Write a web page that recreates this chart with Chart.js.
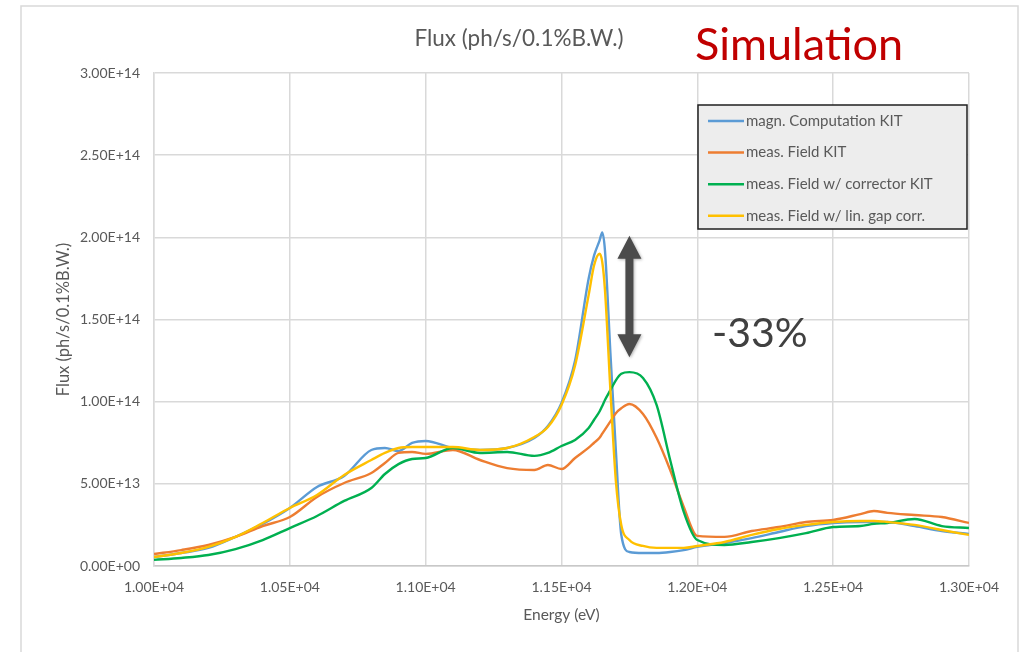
<!DOCTYPE html>
<html>
<head>
<meta charset="utf-8">
<title>Flux (ph/s/0.1%B.W.)</title>
<script src="https://cdn.jsdelivr.net/npm/chart.js@4.4.1/dist/chart.umd.min.js"></script>
<style>
  html, body { margin: 0; padding: 0; background: #fff; }
  #wrap { position: relative; width: 1025px; height: 652px; }
</style>
</head>
<body>
<div id="wrap"><canvas id="fluxChart"></canvas></div>
<script>
// photon energy (eV), shared by all curves
const energy = [
  10000, 10100, 10200, 10300, 10400, 10500, 10600, 10700, 10800, 10850,
  10900, 10950, 11000, 11100, 11200, 11300, 11400, 11450, 11500, 11550,
  11600, 11620, 11640, 11650, 11660, 11680, 11700, 11720, 11750, 11800,
  11850, 11900, 11950, 12000, 12100, 12200, 12300, 12400, 12500, 12600,
  12650, 12700, 12800, 12900, 13000
];

// flux in units of 1e13 ph/s/0.1%B.W.
const magnComputationKit = [
  0.55, 0.79, 1.10, 1.77, 2.56, 3.53, 4.81, 5.48, 7.06, 7.18,
  7.00, 7.49, 7.61, 7.18, 7.06, 7.18, 7.79, 8.52, 9.92, 12.5,
  17.5, 18.9, 19.8, 20.3, 19.2, 12.96, 7.06, 1.90, 0.85, 0.79,
  0.79, 0.85, 0.97, 1.16, 1.40, 1.70, 2.07, 2.43, 2.62, 2.68,
  2.68, 2.68, 2.43, 2.13, 1.95
];
const measFieldKit = [
  0.73, 0.97, 1.28, 1.77, 2.43, 2.98, 4.20, 5.05, 5.66, 6.27,
  6.88, 6.94, 6.82, 7.06, 6.45, 5.96, 5.84, 6.15, 5.90, 6.57,
  7.20, 7.50, 7.80, 8.05, 8.30, 8.80, 9.30, 9.60, 9.86, 9.25,
  7.80, 5.84, 3.60, 1.83, 1.77, 2.13, 2.37, 2.68, 2.80, 3.16,
  3.35, 3.23, 3.10, 2.98, 2.62
];
const measFieldCorrectorKit = [
  0.37, 0.49, 0.67, 1.03, 1.58, 2.31, 3.04, 3.96, 4.75, 5.60,
  6.20, 6.51, 6.57, 7.18, 6.88, 6.94, 6.70, 6.88, 7.30, 7.67,
  8.40, 8.90, 9.40, 9.74, 10.1, 10.7, 11.3, 11.7, 11.8, 11.44,
  9.80, 6.45, 3.30, 1.58, 1.28, 1.46, 1.70, 2.00, 2.37, 2.43,
  2.56, 2.62, 2.86, 2.43, 2.31
];
const measFieldLinGapCorr = [
  0.55, 0.79, 1.16, 1.77, 2.62, 3.53, 4.32, 5.54, 6.45, 6.88,
  7.18, 7.24, 7.24, 7.24, 7.06, 7.18, 7.85, 8.46, 9.80, 12.2,
  16.5, 18.3, 19.0, 18.5, 16.8, 10.7, 5.20, 2.50, 1.58, 1.22,
  1.10, 1.10, 1.10, 1.22, 1.46, 1.89, 2.25, 2.50, 2.68, 2.74,
  2.74, 2.68, 2.50, 2.19, 1.89
];
const UNIT = 1e13;

const seriesLabels = [
  'magn. Computation KIT',
  'meas. Field KIT',
  'meas. Field w/ corrector KIT',
  'meas. Field w/ lin. gap corr.'
];
const seriesColors = ['#5b9bd5', '#ed7d31', '#00b050', '#ffc000'];
const seriesValues = [magnComputationKit, measFieldKit, measFieldCorrectorKit, measFieldLinGapCorr];

// double arrow between the two peak levels (same units as the series)
const arrowEnergy = 11750;
const arrowTop = 20.1;
const arrowBottom = 12.7;

const FONT = 'Lato, "Open Sans", sans-serif';
const GREY = '#595959';

function sci(v) {
  // Excel style: 1.00E+04
  return Number(v).toExponential(2).toUpperCase().replace(/E([+-])(\d)$/, 'E$10$2');
}

const datasets = seriesValues.map((vals, i) => ({
  label: seriesLabels[i],
  data: energy.map((e, j) => ({ x: e, y: vals[j] * UNIT })),
  borderColor: seriesColors[i],
  backgroundColor: seriesColors[i],
  borderWidth: 2.4,
  pointRadius: 0,
  cubicInterpolationMode: 'monotone',
  order: 4 - i
}));

const decorations = {
  id: 'decorations',
  beforeDraw(chart) {
    const { ctx, width, height } = chart;
    ctx.save();
    ctx.fillStyle = '#fff';
    ctx.fillRect(0, 0, width, height);
    ctx.strokeStyle = '#d9d9d9';
    ctx.lineWidth = 1.5;
    ctx.strokeRect(21, 6, 997, height + 20);
    ctx.restore();
  },
  afterDraw(chart) {
    const { ctx } = chart;
    const xs = chart.scales.x, ys = chart.scales.y;
    ctx.save();

    // chart title
    ctx.fillStyle = GREY;
    ctx.font = '22.5px ' + FONT;
    ctx.textAlign = 'center';
    ctx.textBaseline = 'middle';
    ctx.fillText('Flux (ph/s/0.1%B.W.)', 519, 39);

    ctx.fillStyle = '#c00000';
    ctx.font = '45px ' + FONT;
    ctx.textAlign = 'left';
    ctx.fillText('Simulation', 695, 45);

    // double arrow
    const ax = xs.getPixelForValue(arrowEnergy);
    const yTop = ys.getPixelForValue(arrowTop * UNIT);
    const yBot = ys.getPixelForValue(arrowBottom * UNIT);
    const headH = 23, headW = 12, shaft = 4;
    ctx.shadowColor = 'rgba(0,0,0,0.3)';
    ctx.shadowBlur = 3;
    ctx.shadowOffsetX = 1;
    ctx.shadowOffsetY = 1;
    ctx.fillStyle = '#4b4b4b';
    ctx.beginPath();
    ctx.moveTo(ax, yTop);
    ctx.lineTo(ax + headW, yTop + headH);
    ctx.lineTo(ax + shaft, yTop + headH);
    ctx.lineTo(ax + shaft, yBot - headH);
    ctx.lineTo(ax + headW, yBot - headH);
    ctx.lineTo(ax, yBot);
    ctx.lineTo(ax - headW, yBot - headH);
    ctx.lineTo(ax - shaft, yBot - headH);
    ctx.lineTo(ax - shaft, yTop + headH);
    ctx.lineTo(ax - headW, yTop + headH);
    ctx.closePath();
    ctx.fill();
    ctx.shadowColor = 'transparent';

    ctx.fillStyle = '#404040';
    ctx.font = '41px ' + FONT;
    ctx.textAlign = 'left';
    ctx.fillText('-33%', 712, 334);

    // legend box
    const lx = 698, ly = 105, lw = 269, lh = 124;
    ctx.fillStyle = '#ededed';
    ctx.fillRect(lx, ly, lw, lh);
    ctx.strokeStyle = '#1f1f1f';
    ctx.lineWidth = 1.5;
    ctx.strokeRect(lx, ly, lw, lh);
    ctx.font = '15px ' + FONT;
    ctx.textBaseline = 'middle';
    chart.data.datasets.forEach((ds, i) => {
      const ry = 121 + i * 31.6;
      ctx.strokeStyle = ds.borderColor;
      ctx.lineWidth = 2.5;
      ctx.beginPath();
      ctx.moveTo(708, ry);
      ctx.lineTo(744, ry);
      ctx.stroke();
      ctx.fillStyle = GREY;
      ctx.fillText(ds.label, 746, ry);
    });
    ctx.restore();
  }
};

new Chart(document.getElementById('fluxChart'), {
  type: 'line',
  data: { datasets },
  options: {
    responsive: true,
    maintainAspectRatio: false,
    animation: false,
    layout: { padding: { top: 73, right: 56, bottom: 0, left: 0 } },
    plugins: {
      legend: { display: false },
      tooltip: { enabled: false }
    },
    scales: {
      x: {
        type: 'linear',
        min: 10000,
        max: 13000,
        afterFit(scale) { scale.height = 86; },
        ticks: {
          stepSize: 500,
          padding: 13,
          color: GREY,
          font: { family: FONT, size: 14 },
          callback: v => sci(v)
        },
        grid: { color: '#d9d9d9', lineWidth: 1.5, drawTicks: false },
        border: { color: '#c8c8c8', width: 1.5 },
        title: {
          display: true,
          text: 'Energy (eV)',
          color: GREY,
          font: { family: FONT, size: 15.5 },
          padding: { top: 0, bottom: 28 }
        }
      },
      y: {
        min: 0,
        max: 3e14,
        afterFit(scale) { scale.width = 154; },
        ticks: {
          stepSize: 5e13,
          padding: 14,
          color: GREY,
          font: { family: FONT, size: 14 },
          callback: v => sci(v)
        },
        grid: { color: '#d9d9d9', lineWidth: 1.5, drawTicks: false },
        border: { color: '#d9d9d9', width: 1.5 },
        title: {
          display: true,
          text: 'Flux (ph/s/0.1%B.W.)',
          color: GREY,
          font: { family: FONT, size: 16.5 },
          padding: { top: 54, bottom: 0 }
        }
      }
    }
  },
  plugins: [decorations]
});
</script>
</body>
</html>
